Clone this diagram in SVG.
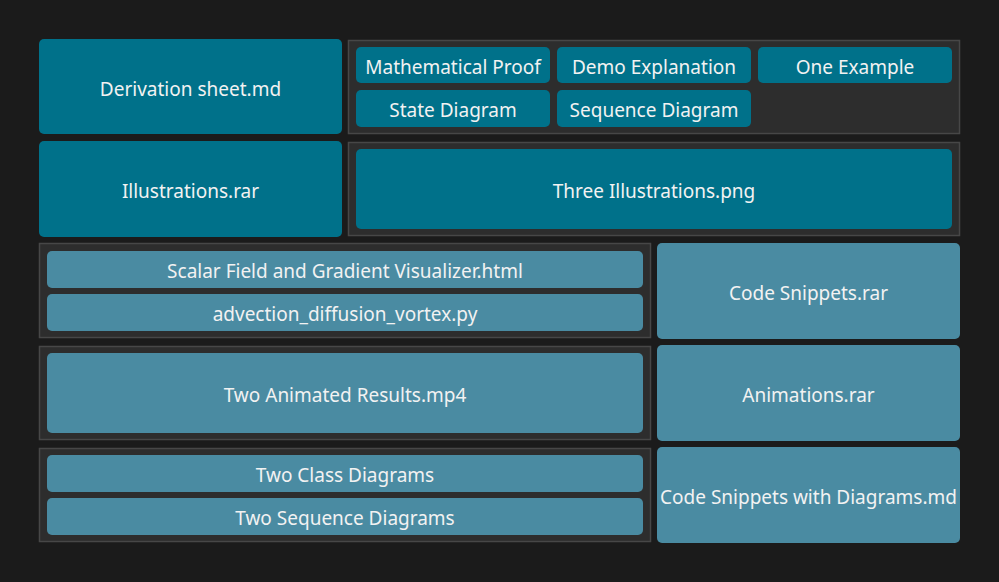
<svg xmlns="http://www.w3.org/2000/svg" width="999" height="582" viewBox="0 0 999 582">
<style>
.bg{fill:#1b1b1b}
.ct{fill:#2d2d2d;stroke:#474747;stroke-width:1.5}
.d{fill:#00718a}
.l{fill:#4a8ba2}
text{font-family:"Noto Sans","Open Sans",sans-serif;font-size:19px;fill:#f2f2f2;text-anchor:middle;dominant-baseline:central}
</style>
<rect class="bg" x="0" y="0" width="999" height="582"/>
<g id="containers">
<rect class="ct" x="348.5" y="40.5" width="611" height="93"/>
<rect class="ct" x="348.5" y="142.5" width="611" height="93"/>
<rect class="ct" x="39.5" y="243.5" width="611" height="94"/>
<rect class="ct" x="39.5" y="346.5" width="611" height="93"/>
<rect class="ct" x="39.5" y="448.5" width="611" height="93"/>
</g>
<g id="derivation"><rect class="d" x="39" y="39" width="303" height="95" rx="5"/><text x="190.5" y="89">Derivation sheet.md</text></g>
<g id="math-proof"><rect class="d" x="356" y="47" width="194" height="36" rx="5"/><text x="453" y="67">Mathematical Proof</text></g>
<g id="demo-explanation"><rect class="d" x="557" y="47" width="194" height="36" rx="5"/><text x="654" y="67">Demo Explanation</text></g>
<g id="one-example"><rect class="d" x="758" y="47" width="194" height="36" rx="5"/><text x="855" y="67">One Example</text></g>
<g id="state-diagram"><rect class="d" x="356" y="90" width="194" height="37" rx="5"/><text x="453" y="110">State Diagram</text></g>
<g id="sequence-diagram"><rect class="d" x="557" y="90" width="194" height="37" rx="5"/><text x="654" y="110">Sequence Diagram</text></g>
<g id="illustrations"><rect class="d" x="39" y="141" width="303" height="96" rx="5"/><text x="190.5" y="191">Illustrations.rar</text></g>
<g id="three-illustrations"><rect class="d" x="356" y="149" width="596" height="80" rx="5"/><text x="654" y="191">Three Illustrations.png</text></g>
<g id="scalar-field"><rect class="l" x="47" y="251" width="596" height="37" rx="5"/><text x="345" y="271">Scalar Field and Gradient Visualizer.html</text></g>
<g id="advection"><rect class="l" x="47" y="294" width="596" height="37" rx="5"/><text x="345" y="314">advection_diffusion_vortex.py</text></g>
<g id="code-snippets"><rect class="l" x="657" y="243" width="303" height="96" rx="5"/><text x="808.5" y="293">Code Snippets.rar</text></g>
<g id="two-animated"><rect class="l" x="47" y="353" width="596" height="80" rx="5"/><text x="345" y="395">Two Animated Results.mp4</text></g>
<g id="animations"><rect class="l" x="657" y="345" width="303" height="96" rx="5"/><text x="808.5" y="395">Animations.rar</text></g>
<g id="class-diagrams"><rect class="l" x="47" y="455" width="596" height="37" rx="5"/><text x="345" y="475">Two Class Diagrams</text></g>
<g id="seq-diagrams"><rect class="l" x="47" y="498" width="596" height="37" rx="5"/><text x="345" y="518">Two Sequence Diagrams</text></g>
<g id="code-snippets-diagrams"><rect class="l" x="657" y="447" width="303" height="96" rx="5"/><text x="808.5" y="497">Code Snippets with Diagrams.md</text></g>
<g id="connectors"/>
</svg>
